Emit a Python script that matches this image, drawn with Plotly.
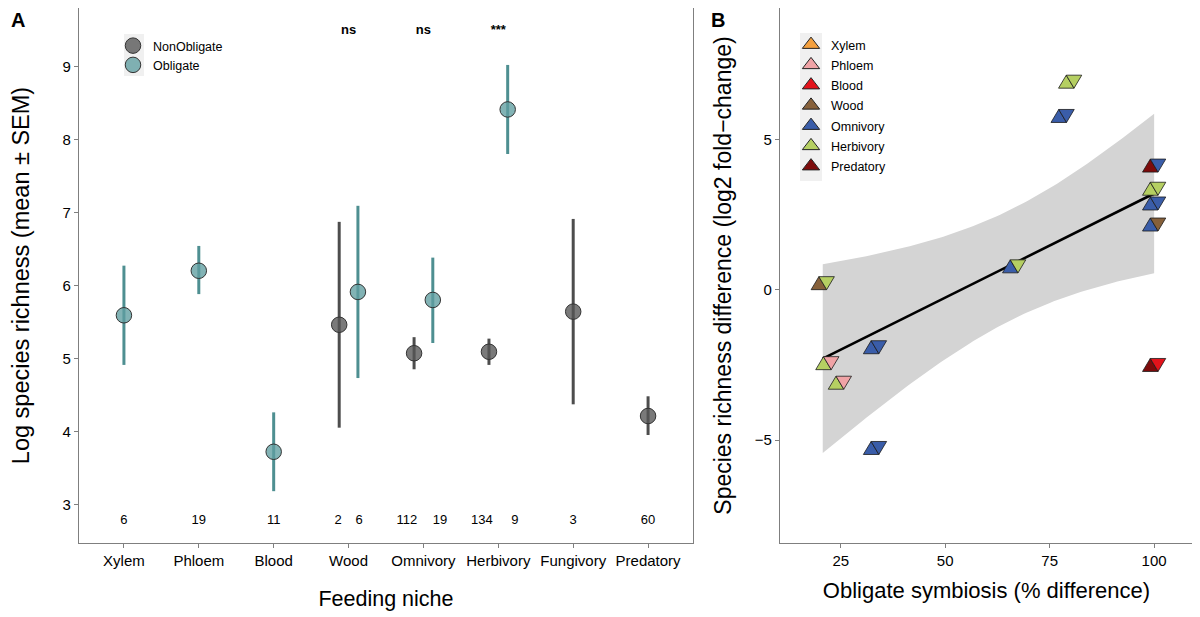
import numpy as np
import plotly.graph_objects as go

# ---------------- Panel A data ----------------
niches = ["Xylem", "Phloem", "Blood", "Wood", "Omnivory", "Herbivory", "Fungivory", "Predatory"]
nonobl_mean = [None, None, None, 5.46, 5.07, 5.09, 5.64, 4.21]
nonobl_lo = [None, None, None, 4.05, 4.85, 4.91, 4.37, 3.95]
nonobl_hi = [None, None, None, 6.87, 5.29, 5.27, 6.91, 4.48]
obl_mean = [5.59, 6.20, 3.72, 5.91, 5.80, 8.41, None, None]
obl_lo = [4.91, 5.88, 3.18, 4.73, 5.21, 7.80, None, None]
obl_hi = [6.27, 6.54, 4.26, 7.09, 6.38, 9.02, None, None]
nonobl_n = ["", "", "", "2", "112", "134", "3", "60"]
obl_n = ["6", "19", "11", "6", "19", "9", "", ""]
sig_niches = ["Wood", "Omnivory", "Herbivory"]
sig_labels = ["ns", "ns", "***"]
a_yticks = [3, 4, 5, 6, 7, 8, 9]

# ---------------- Panel B data ----------------
b_x = [20.7, 21.8, 24.8, 33.2, 33.2, 66.5, 78.1, 79.9, 100, 100, 100, 100, 100]
b_y = [0.22, -2.44, -3.09, -1.91, -5.26, 0.78, 5.78, 6.92, 4.13, 3.36, 2.87, 2.17, -2.50]
b_left = ["Wood", "Herbivory", "Herbivory", "Omnivory", "Omnivory", "Omnivory", "Omnivory",
          "Herbivory", "Predatory", "Herbivory", "Omnivory", "Omnivory", "Predatory"]
b_right = ["Herbivory", "Phloem", "Phloem", "Omnivory", "Omnivory", "Herbivory", "Omnivory",
           "Herbivory", "Omnivory", "Herbivory", "Omnivory", "Wood", "Blood"]
b_legend = ["Xylem", "Phloem", "Blood", "Wood", "Omnivory", "Herbivory", "Predatory"]
b_xticks = [25, 50, 75, 100]
b_yticks = [-5, 0, 5]

niche_colors = {
    "Xylem": "#F4A03E", "Phloem": "#F0A3A6", "Blood": "#E3131B", "Wood": "#86603A",
    "Omnivory": "#3A5DA9", "Herbivory": "#B5CF62", "Predatory": "#7D0B0B",
}

FONT = "Liberation Sans, Arial, Helvetica, sans-serif"
FRAME = "#7F7F7F"
W, H = 1200, 617
OFF = 8  # page body margin in the browser


def px(x):
    return min(max((x - OFF) / W, 0.0), 1.0)


def py(y):
    return min(max(1 - (y - OFF) / H, 0.0), 1.0)


fig = go.Figure()

# ---------------- Panel A ----------------
groups = [
    ("NonObligate", nonobl_mean, nonobl_lo, nonobl_hi, -1, "rgba(85,85,85,0.78)", "#4D4D4D"),
    ("Obligate", obl_mean, obl_lo, obl_hi, 1, "rgba(95,158,160,0.78)", "#4E8F91"),
]


def both_present(i):
    return nonobl_mean[i] is not None and obl_mean[i] is not None


for name, mean, lo, hi, sgn, fill, line in groups:
    xs, ys, ep, em = [], [], [], []
    for i, m in enumerate(mean):
        if m is None:
            continue
        off = sgn * 0.125 if both_present(i) else 0.0
        xs.append(i + 1 + off)
        ys.append(m)
        ep.append(hi[i] - m)
        em.append(m - lo[i])
    fig.add_trace(go.Scatter(
        x=xs, y=ys, mode="markers", name=name, legend="legend",
        xaxis="x", yaxis="y",
        marker=dict(size=15.5, color=fill, line=dict(color="#333333", width=1)),
        error_y=dict(type="data", symmetric=False, array=ep, arrayminus=em,
                     color=line, thickness=3, width=0),
    ))

# sample size labels
lab_x, lab_t = [], []
for i in range(len(niches)):
    a, b = nonobl_n[i], obl_n[i]
    if a and b:
        off = 0.1 + 0.04 * max(len(a), len(b))
        lab_x += [i + 1 - off, i + 1 + off]
        lab_t += [a, b]
    else:
        lab_x.append(i + 1)
        lab_t.append(a or b)
fig.add_trace(go.Scatter(
    x=lab_x, y=[2.78] * len(lab_x), mode="text", text=lab_t, showlegend=False,
    textfont=dict(size=13, color="black", family=FONT), xaxis="x", yaxis="y",
    hoverinfo="skip"))

# significance labels
fig.add_trace(go.Scatter(
    x=[niches.index(n) + 1 for n in sig_niches], y=[9.49] * len(sig_niches),
    mode="text", text=["<b>%s</b>" % s for s in sig_labels], showlegend=False,
    textfont=dict(size=13, color="black", family=FONT), xaxis="x", yaxis="y",
    hoverinfo="skip"))

# ---------------- Panel B ----------------
bx = np.array(b_x)
by = np.array(b_y)
n = len(bx)
slope, intercept = np.polyfit(bx, by, 1)
resid = by - (slope * bx + intercept)
s = np.sqrt(np.sum(resid ** 2) / (n - 2))
sxx = np.sum((bx - bx.mean()) ** 2)
t_crit = 2.200985  # t(0.975, df=11)
grid = np.linspace(bx.min(), bx.max(), 100)
fit = slope * grid + intercept
se = s * np.sqrt(1.0 / n + (grid - bx.mean()) ** 2 / sxx)
upper = fit + t_crit * se
lower = fit - t_crit * se

fig.add_trace(go.Scatter(
    x=np.concatenate([grid, grid[::-1]]), y=np.concatenate([upper, lower[::-1]]),
    fill="toself", fillcolor="#D4D4D4", line=dict(width=0), mode="lines",
    showlegend=False, xaxis="x2", yaxis="y2", hoverinfo="skip"))
fig.add_trace(go.Scatter(
    x=grid, y=fit, mode="lines", line=dict(color="black", width=2.6),
    showlegend=False, xaxis="x2", yaxis="y2", hoverinfo="skip"))

for nm in b_legend:
    fig.add_trace(go.Scatter(
        x=[None], y=[None], mode="markers", name=nm, legend="legend2",
        legendgroup=nm, xaxis="x2", yaxis="y2",
        marker=dict(symbol="triangle-up", size=15, color=niche_colors[nm],
                    line=dict(color="#222222", width=1))))

# paired triangles (left: pointing up, right: pointing down) as pixel-sized shapes
w, h = 15.5, 13.0
up_path = "M %.2f,%.2f L %.2f,%.2f L %.2f,%.2f Z" % (-0.75 * w, -h / 2, 0.25 * w, -h / 2, -0.25 * w, h / 2)
dn_path = "M %.2f,%.2f L %.2f,%.2f L %.2f,%.2f Z" % (-0.25 * w, h / 2, 0.75 * w, h / 2, 0.25 * w, -h / 2)
shapes = []
for xv, yv, lft, rgt in zip(b_x, b_y, b_left, b_right):
    for path, col in ((up_path, niche_colors[lft]), (dn_path, niche_colors[rgt])):
        shapes.append(dict(
            type="path", xref="x2", yref="y2", xsizemode="pixel", ysizemode="pixel",
            xanchor=xv, yanchor=yv, path=path, fillcolor=col,
            line=dict(color="#1A1A1A", width=0.8), layer="above"))

# legend key backgrounds
shapes.append(dict(type="rect", xref="paper", yref="paper", x0=px(124), x1=px(144),
                   y0=py(76), y1=py(34), fillcolor="#F0F0F0",
                   line=dict(width=0), layer="below"))
shapes.append(dict(type="rect", xref="paper", yref="paper", x0=px(800), x1=px(822),
                   y0=py(181), y1=py(33), fillcolor="#F0F0F0",
                   line=dict(width=0), layer="below"))

axis_common = dict(showline=True, mirror=True, linecolor=FRAME, linewidth=1.2,
                   showgrid=False, zeroline=False, ticks="outside", ticklen=4,
                   tickcolor=FRAME, tickwidth=1.2,
                   tickfont=dict(size=15, color="black", family=FONT))

fig.update_layout(
    width=W, height=H,
    margin=dict(l=0, r=0, t=0, b=0),
    paper_bgcolor="white", plot_bgcolor="white",
    font=dict(family=FONT, color="black"),
    xaxis=dict(domain=[px(79), px(693)], range=[0.4, 8.6],
               tickvals=list(range(1, len(niches) + 1)), ticktext=niches,
               title=dict(text="Feeding niche", font=dict(size=21.5), standoff=22),
               anchor="y", **axis_common),
    yaxis=dict(domain=[py(543), py(8)], range=[2.47, 9.80],
               tickvals=a_yticks,
               title=dict(text="Log species richness (mean ± SEM)", font=dict(size=23.5), standoff=29),
               anchor="x", **axis_common),
    xaxis2=dict(domain=[px(780), px(1193)], range=[10.47, 109.3],
                tickvals=b_xticks,
                title=dict(text="Obligate symbiosis (% difference)", font=dict(size=22), standoff=14),
                anchor="y2", **axis_common),
    yaxis2=dict(domain=[py(543), py(8)], range=[-8.42, 9.37],
                tickvals=b_yticks, ticktext=["\u22125", "0", "5"],
                title=dict(text="Species richness difference (log2 fold\u2212change)", font=dict(size=23), standoff=16),
                anchor="x2", **axis_common),
    legend=dict(x=px(113), y=py(31), xanchor="left", yanchor="top",
                bgcolor="rgba(0,0,0,0)", font=dict(size=12.5, family=FONT),
                itemsizing="trace", tracegroupgap=0),
    legend2=dict(x=px(791), y=py(30), xanchor="left", yanchor="top",
                 bgcolor="rgba(0,0,0,0)", font=dict(size=12.5, family=FONT),
                 itemsizing="trace", tracegroupgap=1),
    shapes=shapes,
    annotations=[
        dict(text="<b>A</b>", x=px(18), y=1, xref="paper", yref="paper",
             showarrow=False, font=dict(size=20, family=FONT), xanchor="center", yanchor="top",
             borderpad=0),
        dict(text="<b>B</b>", x=px(718), y=1, xref="paper", yref="paper",
             showarrow=False, font=dict(size=20, family=FONT), xanchor="center", yanchor="top",
             borderpad=0),
    ],
)

fig.write_html("out.html")
